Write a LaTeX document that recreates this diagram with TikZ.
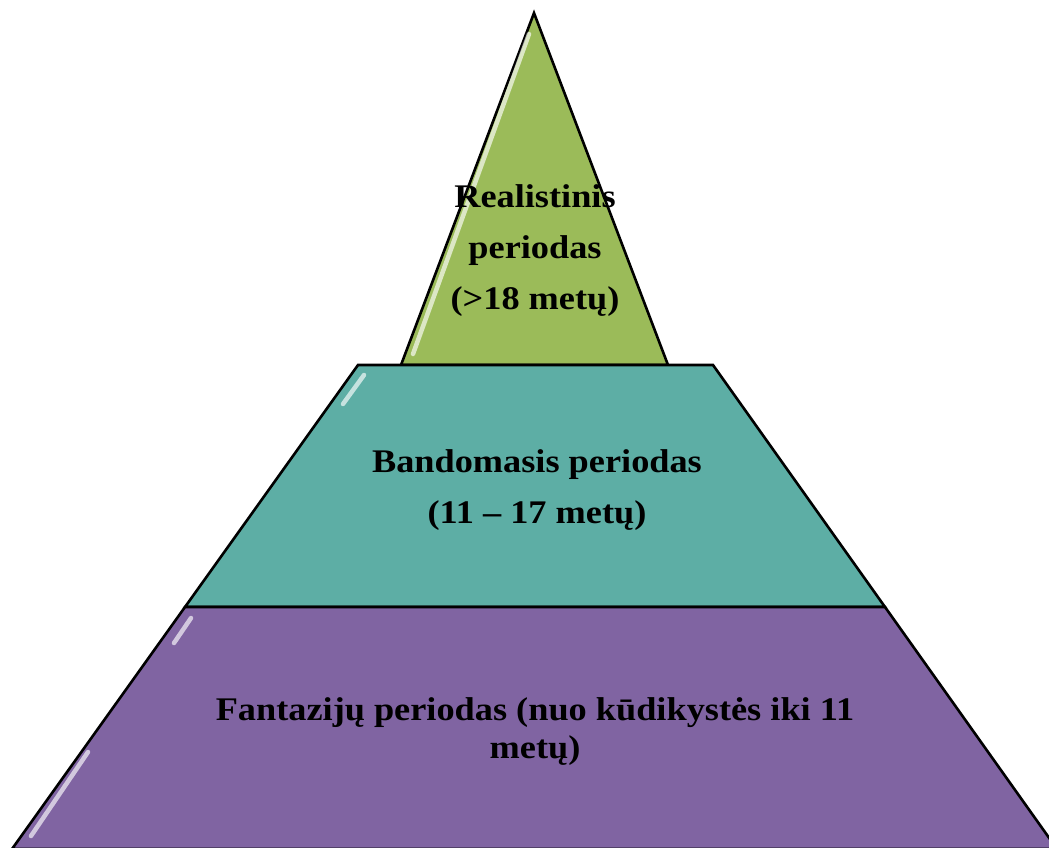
\documentclass[tikz,border=0pt]{standalone}
\usepackage{fontspec}
\setmainfont{Liberation Serif}[FakeStretch=1.1]
\usepackage{tikz}
\usetikzlibrary{positioning}
\definecolor{myGreen}{RGB}{155,187,89}
\definecolor{myTeal}{RGB}{93,174,165}
\definecolor{myPurple}{RGB}{128,100,162}

\begin{document}
\begin{tikzpicture}[
  x=1pt, y=-1pt,
  tier/.style={draw=black, line width=2.6pt, line join=miter},
  gloss/.style={white, line width=4.5pt, line cap=round, opacity=0.65},
  lbl/.style={font=\bfseries\fontsize{33}{51}\selectfont, align=center, inner sep=0pt},
]
  \useasboundingbox (0,0) rectangle (1049,847);
  \clip (0,0) rectangle (1049,847);
  % tiers, top to bottom
  \draw[tier, fill=myGreen] (534,13) -- (668,365) -- (401,365) -- cycle;
  \draw[tier, fill=myTeal] (358,365) -- (713,365) -- (885,607) -- (185,607) -- cycle;
  \draw[tier, fill=myPurple] (185,607) -- (885,607) -- (1057,849) -- (12,849) -- cycle;
  % highlights on the left edges
  \draw[gloss] (529,34) -- (413,354);
  \draw[gloss] (364,375) -- (343,404);
  \draw[gloss] (191,618) -- (174,643);
  \draw[gloss] (88,752) -- (31,836);
  % labels
  \node[lbl] (real) at (535,251) {Realistinis\\periodas\\(>18 metų)};
  \node[lbl] (band) at (537,490) {Bandomasis periodas\\(11 – 17 metų)};
  \node[lbl, font=\bfseries\fontsize{33}{38}\selectfont] (fant) at (535,732)
    {Fantazijų periodas (nuo kūdikystės iki 11\\metų)};
\end{tikzpicture}
\end{document}
